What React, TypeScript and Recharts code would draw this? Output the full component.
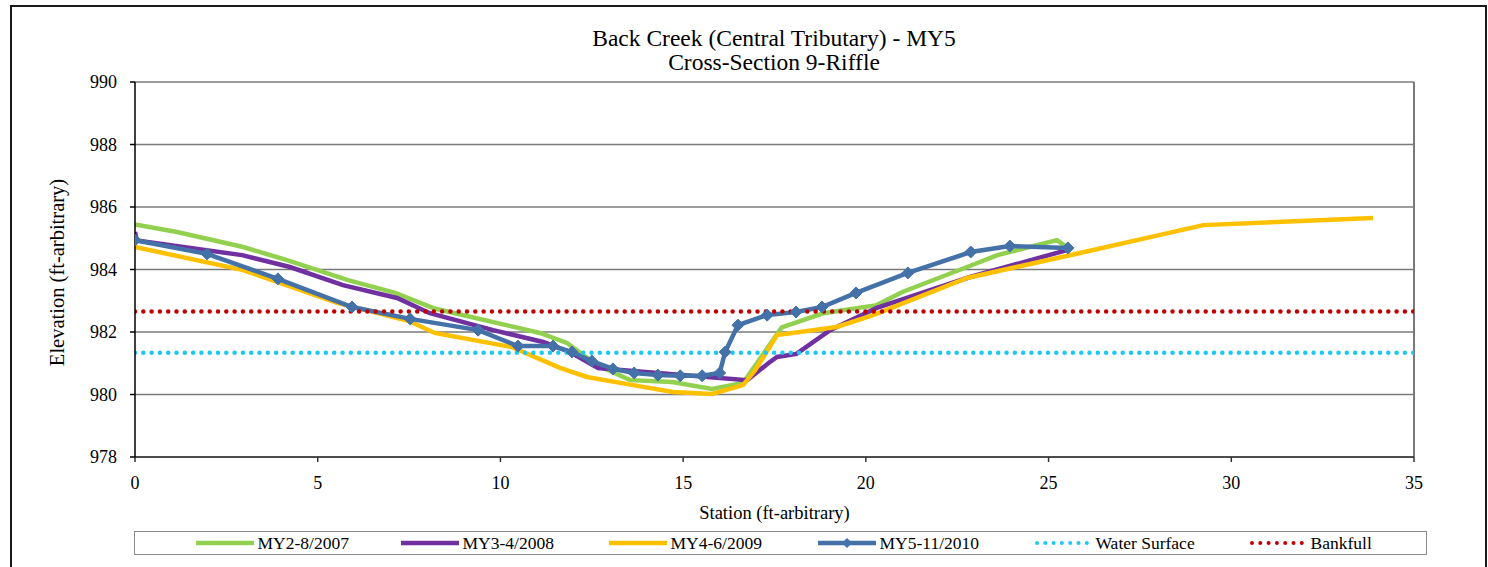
import { CartesianGrid, Label, Line, LineChart, ReferenceLine, XAxis, YAxis } from "recharts";

// MY2-8/2007
const my2Station = [0, 1.15, 2.96, 4.16, 5.83, 7.12, 8.2, 11.08, 11.82, 12.64, 13.55, 14.7, 15.79, 16.64, 17.7, 18.83, 20.3, 21.0, 22.77, 23.6, 25.23, 25.53];
const my2Elev = [985.44, 985.2, 984.72, 984.3, 983.66, 983.25, 982.75, 981.97, 981.65, 980.94, 980.46, 980.4, 980.18, 980.37, 982.15, 982.6, 982.86, 983.28, 984.08, 984.46, 984.94, 984.69];

// MY3-4/2008
const my3Station = [0, 0.05, 2.93, 4.24, 5.69, 7.17, 8.07, 9.8, 11.17, 11.9, 12.67, 13.63, 16.75, 17.33, 17.57, 18.1, 19.02, 20.3, 22.85, 25.5];
const my3Elev = [985.2, 984.93, 984.46, 984.08, 983.5, 983.09, 982.6, 982.06, 981.68, 981.36, 980.85, 980.75, 980.46, 981.0, 981.2, 981.3, 982.06, 982.77, 983.76, 984.62];

// MY4-6/2009
const my4Station = [0, 2.96, 5.53, 7.5, 8.2, 10.3, 11.63, 12.37, 13.63, 14.72, 15.79, 16.64, 16.97, 17.57, 19.2, 20.2, 22.77, 25.86, 29.23, 33.88];
const my4Elev = [984.72, 983.98, 982.93, 982.35, 981.97, 981.52, 980.85, 980.56, 980.3, 980.08, 980.02, 980.3, 980.78, 981.9, 982.16, 982.54, 983.73, 984.53, 985.42, 985.65];

// MY5-11/2010
const my5Station = [0, 1.97, 3.91, 5.94, 7.53, 9.39, 10.48, 11.44, 11.96, 12.5, 13.08, 13.66, 14.31, 14.92, 15.52, 16.0, 16.15, 16.5, 17.3, 18.09, 18.8, 19.73, 21.15, 22.87, 23.94, 25.53];
const my5Elev = [984.94, 984.5, 983.7, 982.8, 982.42, 982.06, 981.55, 981.55, 981.36, 981.07, 980.82, 980.69, 980.62, 980.6, 980.6, 980.69, 981.36, 982.22, 982.54, 982.64, 982.8, 983.25, 983.89, 984.56, 984.75, 984.69];

const waterSurface = 981.34;
const bankfull = 982.66;
const xExtent = [0, 35];

const xTicks = [0, 5, 10, 15, 20, 25, 30, 35];
const yTicks = [978, 980, 982, 984, 986, 988, 990];

const pts = (xs: number[], ys: number[]) => xs.map((x, i) => ({ x, y: ys[i] }));
const flat = (v: number) => xExtent.map((x) => ({ x, y: v }));

const legendItems = [
  { name: "MY2-8/2007", color: "#92D050", kind: "line" },
  { name: "MY3-4/2008", color: "#7030A0", kind: "line" },
  { name: "MY4-6/2009", color: "#FFC000", kind: "line" },
  { name: "MY5-11/2010", color: "#4472A8", kind: "marker" },
  { name: "Water Surface", color: "#1EC8F5", kind: "dots" },
  { name: "Bankfull", color: "#C00000", kind: "dots" },
];
// where each legend label starts (page x)
const legendTextX = [258, 463, 671, 880, 1096, 1311];

const serif = "Liberation Serif";

const Diamond = (props: any) => {
  const { cx, cy } = props;
  if (cx == null || cy == null) return null;
  const r = 6;
  return (
    <path
      d={`M${cx},${cy - r} L${cx + r},${cy} L${cx},${cy + r} L${cx - r},${cy} Z`}
      fill="#4472A8"
      stroke="#4472A8"
    />
  );
};

function LegendSample({ color, kind }: { color: string; kind: string }) {
  return (
    <svg width={58} height={12} style={{ marginRight: 4 }}>
      {kind === "dots" ? (
        <line x1={3} y1={6} x2={56} y2={6} stroke={color} strokeWidth={4} strokeDasharray="0 8.3" strokeLinecap="round" />
      ) : (
        <line x1={0} y1={6} x2={58} y2={6} stroke={color} strokeWidth={4.5} />
      )}
      {kind === "marker" && <path d="M29,1 L34,6 L29,11 L24,6 Z" fill={color} />}
    </svg>
  );
}

export default function App() {
  return (
    <div style={{ position: "absolute", left: 0, top: 0, width: 1488, height: 567, background: "#fff", fontFamily: serif, overflow: "hidden" }}>
      <div style={{ position: "absolute", left: 10, top: 5, width: 1473, height: 620, border: "2px solid #1a1a1a" }} />
      <div style={{ position: "absolute", left: 0, top: 26, width: 1548, textAlign: "center", fontSize: 23.5, lineHeight: "24px", color: "#000", fontFamily: serif }}>
        Back Creek (Central Tributary) - MY5
        <br />
        Cross-Section 9-Riffle
      </div>
      <div style={{ position: "absolute", left: 0, top: 0 }}>
        <LineChart width={1488} height={567} margin={{ top: 82, right: 74, bottom: 50, left: 75 }}>
          <CartesianGrid horizontal vertical={false} stroke="#7a7a7a" strokeWidth={1.5} />
          <XAxis
            type="number"
            dataKey="x"
            domain={[0, 35]}
            ticks={xTicks}
            allowDataOverflow
            height={60}
            stroke="#333"
            strokeWidth={1.5}
            tickSize={5}
            tickMargin={14}
            tick={{ fill: "#000", fontSize: 18, fontFamily: serif }}
          >
            <Label value="Station (ft-arbitrary)" position="insideBottom" offset={-2} style={{ fill: "#000", fontSize: 18.5, fontFamily: serif }} />
          </XAxis>
          <YAxis
            type="number"
            dataKey="y"
            domain={[978, 990]}
            ticks={yTicks}
            allowDataOverflow
            width={60}
            stroke="#000"
            strokeWidth={1.5}
            tickSize={5}
            tickMargin={13}
            tick={{ fill: "#000", fontSize: 18, fontFamily: serif }}
          >
            <Label value="Elevation (ft-arbitrary)" angle={-90} position="insideLeft" offset={-18} dy={3} style={{ textAnchor: "middle", fill: "#000", fontSize: 20.5, fontFamily: serif }} />
          </YAxis>
          <ReferenceLine x={35} stroke="#7a7a7a" strokeWidth={2} />
          <Line data={pts(my2Station, my2Elev)} dataKey="y" type="linear" stroke="#92D050" strokeWidth={4.5} dot={false} isAnimationActive={false} />
          <Line data={pts(my3Station, my3Elev)} dataKey="y" type="linear" stroke="#7030A0" strokeWidth={4.5} dot={false} isAnimationActive={false} />
          <Line data={pts(my4Station, my4Elev)} dataKey="y" type="linear" stroke="#FFC000" strokeWidth={4.5} dot={false} isAnimationActive={false} />
          <Line data={pts(my5Station, my5Elev)} dataKey="y" type="linear" stroke="#4472A8" strokeWidth={4.5} dot={<Diamond />} isAnimationActive={false} />
          <Line data={flat(waterSurface)} dataKey="y" type="linear" stroke="#1EC8F5" strokeWidth={4.5} strokeDasharray="0 8.3" strokeLinecap="round" dot={false} isAnimationActive={false} />
          <Line data={flat(bankfull)} dataKey="y" type="linear" stroke="#C00000" strokeWidth={4.5} strokeDasharray="0 8.3" strokeLinecap="round" dot={false} isAnimationActive={false} />
        </LineChart>
      </div>
      <div
        style={{
          position: "absolute",
          left: 134,
          top: 531,
          width: 1293,
          height: 24,
          border: "1.5px solid #8a8a8a",
          boxSizing: "border-box",
          fontSize: 17.5,
          color: "#000",
          fontFamily: serif,
        }}
      >
        {legendItems.map((it, i) => (
          <div key={it.name} style={{ position: "absolute", left: legendTextX[i] - 62 - 135.5, top: 1, height: 20, display: "flex", alignItems: "center", whiteSpace: "nowrap" }}>
            <LegendSample color={it.color} kind={it.kind} />
            <span>{it.name}</span>
          </div>
        ))}
      </div>
    </div>
  );
}
